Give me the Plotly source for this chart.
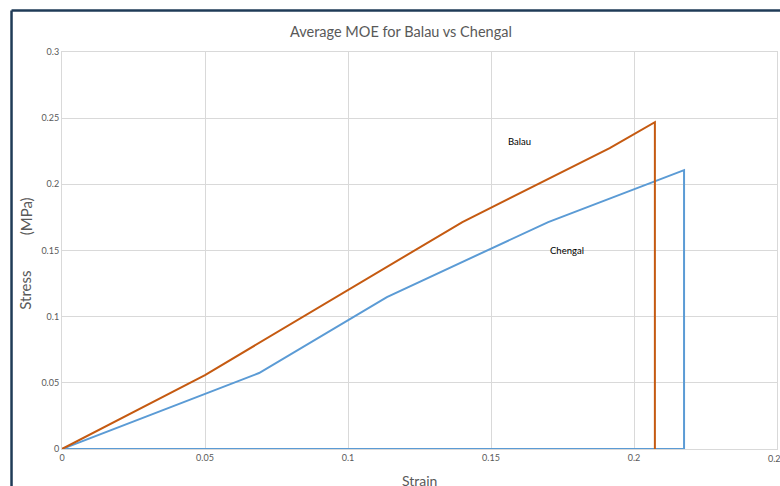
import plotly.graph_objects as go

# Stress-strain curves (average) for the two timber species
balau_strain = [0.0, 0.050, 0.140, 0.1915, 0.2073, 0.2073]
balau_stress = [0.0, 0.0559, 0.1715, 0.2273, 0.2470, 0.0]

chengal_strain = [0.0, 0.0689, 0.1136, 0.170, 0.2175, 0.2175, 0.0]
chengal_stress = [0.0, 0.0574, 0.1148, 0.1715, 0.2107, 0.0, 0.0]

x_ticks = [0, 0.05, 0.1, 0.15, 0.2, 0.25]
x_tick_text = ["0", "0.05", "0.1", "0.15", "0.2", "0.25"]
y_ticks = [0, 0.05, 0.1, 0.15, 0.2, 0.25, 0.3]
y_tick_text = ["0", "0.05", "0.1", "0.15", "0.2", "0.25", "0.3"]

FONT = "Lato, 'Open Sans', sans-serif"
GREY = "#595959"
GRID = "#D9D9D9"

fig = go.Figure()
fig.add_trace(go.Scatter(x=chengal_strain, y=chengal_stress, mode="lines",
                         line=dict(color="#5B9BD5", width=2), name="Chengal",
                         hoverinfo="skip"))
fig.add_trace(go.Scatter(x=balau_strain, y=balau_stress, mode="lines",
                         line=dict(color="#C55A11", width=2), name="Balau",
                         hoverinfo="skip"))

fig.update_layout(
    width=780, height=486,
    margin=dict(l=62, r=2.5, t=52, b=37),
    paper_bgcolor="white", plot_bgcolor="white",
    showlegend=False,
    font=dict(family=FONT, color=GREY),
    xaxis=dict(range=[0, 0.25], tickvals=x_ticks[:-1], ticktext=x_tick_text[:-1],
               showgrid=True, gridcolor=GRID, gridwidth=1, zeroline=False,
               showline=True, linecolor=GRID, linewidth=1, mirror=True,
               ticks="", tickfont=dict(size=9, color=GREY, family=FONT)),
    yaxis=dict(range=[0, 0.3], tickvals=y_ticks, ticktext=y_tick_text,
               showgrid=True, gridcolor=GRID, gridwidth=1, zeroline=False,
               showline=True, linecolor=GRID, linewidth=1, mirror=True,
               ticks="", ticklen=0, tickfont=dict(size=9, color=GREY, family=FONT)),
)

# Last x tick label sits on the right edge of the chart
fig.add_annotation(text=x_tick_text[-1], x=x_ticks[-1], xref="x", yref="paper",
                   y=-0.005, xanchor="center", yanchor="top", showarrow=False,
                   font=dict(size=9, color=GREY, family=FONT))

# Chart title
fig.add_annotation(text="Average MOE for Balau vs Chengal", xref="paper", yref="paper",
                   x=0.474, y=1.052, xanchor="center", yanchor="middle",
                   showarrow=False, font=dict(size=14.5, color=GREY, family=FONT))

# Axis titles
fig.add_annotation(text="Strain", xref="paper", yref="paper",
                   x=0.5, y=-0.052, xanchor="center", yanchor="top",
                   showarrow=False, font=dict(size=14, color=GREY, family=FONT))
fig.add_annotation(text="Stress", xref="paper", yref="paper",
                   x=-0.051, y=0.40, xanchor="center", yanchor="middle",
                   textangle=-90, showarrow=False,
                   font=dict(size=15, color=GREY, family=FONT))
fig.add_annotation(text="(MPa)", xref="paper", yref="paper",
                   x=-0.051, y=0.585, xanchor="center", yanchor="middle",
                   textangle=-90, showarrow=False,
                   font=dict(size=15, color=GREY, family=FONT))

# Series labels
fig.add_annotation(text="Balau", x=0.160, y=0.2326, showarrow=False,
                   font=dict(size=9.5, color="#000000", family=FONT))
fig.add_annotation(text="Chengal", x=0.1766, y=0.150, showarrow=False,
                   font=dict(size=9.5, color="#000000", family=FONT))

# Dark frame around the chart
FRAME = "#1F3B57"
fig.add_shape(type="line", xref="paper", yref="paper",
              x0=-0.0706, x1=-0.0706, y0=-0.12, y1=1.1045,
              line=dict(color=FRAME, width=2.5))
fig.add_shape(type="line", xref="paper", yref="paper",
              x0=-0.0706, x1=1.02, y0=1.1045, y1=1.1045,
              line=dict(color=FRAME, width=2.5))

fig.write_html("out.html")
